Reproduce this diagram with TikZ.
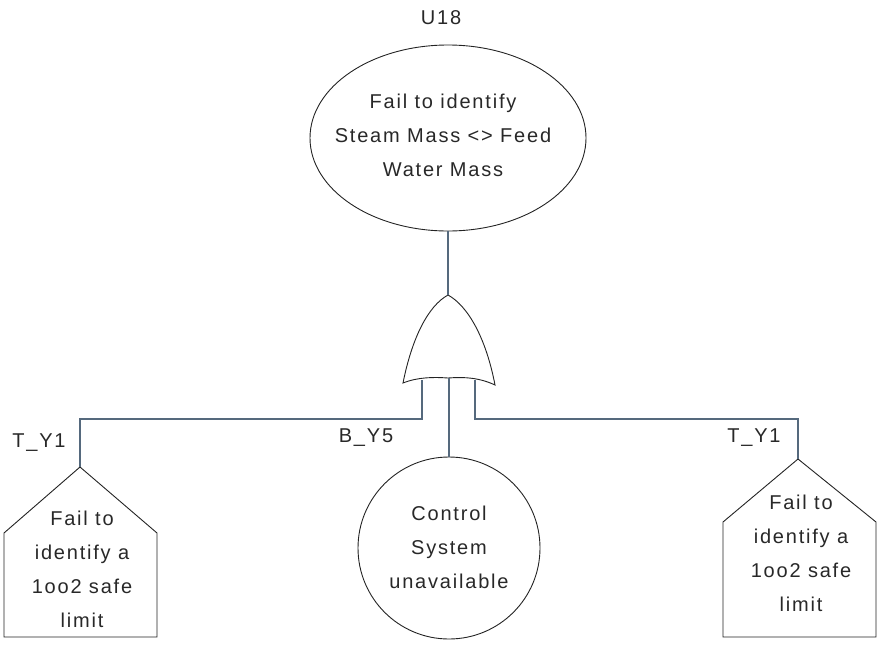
\documentclass[tikz,border=0pt]{standalone}
\usepackage{fontspec}
\setmainfont[LetterSpace=9]{Liberation Sans}
\usetikzlibrary{shapes.geometric}
\definecolor{wire}{RGB}{85,105,125}
\definecolor{ink}{RGB}{35,35,35}
\definecolor{txt}{RGB}{40,40,40}
\begin{document}
\begin{tikzpicture}[x=1pt,y=-1pt,
  every node/.style={font=\fontsize{20}{34}\selectfont, text=txt},
  lbl/.style={inner sep=0pt},
  shapeline/.style={draw=ink, line width=0.9pt},
  wireline/.style={draw=wire, line width=1.1pt},
  body/.style={align=center, inner sep=0pt}]
\useasboundingbox (0,0) rectangle (877,648);
% top event
\node[shapeline, ellipse, minimum width=276pt, minimum height=186pt, inner sep=0pt] (top) at (448,138) {};
\node[body] (toptext) at (443,135) {Fail to identify\\Steam Mass <> Feed\\Water Mass};
\node[lbl] (u18) at (441,18) {U18};
% OR gate
\filldraw[shapeline, fill=white] (403,383) .. controls (412,338) and (428,306) .. (448,295)
  .. controls (468,306) and (486,338) .. (495,385)
  .. controls (478,377) and (462,377) .. (448,378)
  .. controls (434,377) and (418,377) .. (403,383) -- cycle;
\coordinate (gtop) at (448,295);
\coordinate (gl) at (422,380);
\coordinate (gm) at (449,378);
\coordinate (gr) at (475,380);
% middle basic event
\node[shapeline, circle, minimum size=182pt, inner sep=0pt] (mid) at (449,548) {};
\node[body] (midtext) at (449,547) {Control\\System\\unavailable};
\node[lbl] (by5) at (366,438) {B\_Y5};
% left transfer
\draw[shapeline, fill=white] (4,637) -- (4,533) -- (80,467) -- (157,533) -- (157,637) -- cycle;
\coordinate (lapex) at (80,467);
\node[body] (ltext) at (82,569) {Fail to\\identify a\\1oo2 safe\\limit};
\node[lbl] (lty1) at (39,443) {T\_Y1};
% right transfer
\draw[shapeline, fill=white] (723,637) -- (723,522) -- (798,459) -- (876,522) -- (876,637) -- cycle;
\coordinate (rapex) at (798,459);
\node[body] (rtext) at (801,553) {Fail to\\identify a\\1oo2 safe\\limit};
\node[lbl] (rty1) at (754,438) {T\_Y1};
% connectors
\draw[wireline] (top.south) -- (gtop);
\draw[wireline] (gl) -- (422,419) -| (lapex);
\draw[wireline] (gr) -- (475,419) -| (rapex);
\draw[wireline] (gm) -- (mid.north);
\end{tikzpicture}
\end{document}
